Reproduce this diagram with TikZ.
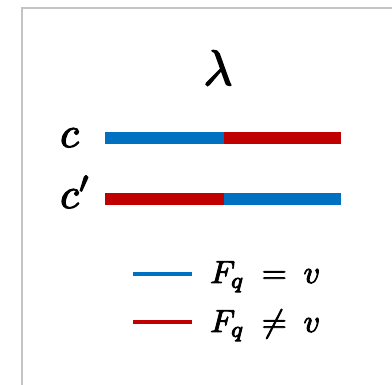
\documentclass[tikz,border=0pt]{standalone}
\definecolor{barblue}{HTML}{0070C0}
\definecolor{barred}{HTML}{C00000}
\definecolor{framegray}{HTML}{C4C4C4}
\newcommand\thicktext[1]{\special{pdf:literal direct 2 Tr 0.28 w}#1\special{pdf:literal direct 0 Tr}}
\tikzset{
  bar/.style={line width=12pt},
  legline/.style={line width=4.5pt},
  lbl/.style={inner sep=0pt, anchor=base west},
}
\begin{document}
\begin{tikzpicture}[x=1pt,y=-1pt]
\useasboundingbox[fill=white] (0,0) rectangle (392,385);
\draw[framegray, line width=2pt] (22,386) -- (22,8) -- (393,8);
% lambda
\node[inner sep=0pt, anchor=base] (lam) at (218,85) {\scalebox{5.0}{\thicktext{$\lambda$}}};
% c and c'
\node[lbl] (c) at (60,147) {\scalebox{4.3}{\thicktext{$c$}}};
\node[lbl] (cp) at (60,208) {\scalebox{4.3}{\thicktext{$c'$}}};
% bars
\coordinate (b1a) at (105,138);
\coordinate (b1m) at (223.5,138);
\coordinate (b1b) at (341,138);
\coordinate (b2a) at (105,199.5);
\coordinate (b2m) at (223.5,199.5);
\coordinate (b2b) at (341,199.5);
\draw[bar, barblue] (b1a) -- (b1m);
\draw[bar, barred] (b1m) -- (b1b);
\draw[bar, barred] (b2a) -- (b2m);
\draw[bar, barblue] (b2m) -- (b2b);
% legend
\coordinate (l1a) at (133,274);
\coordinate (l1b) at (192,274);
\coordinate (l2a) at (133,322);
\coordinate (l2b) at (192,322);
\draw[legline, barblue] (l1a) -- (l1b);
\draw[legline, barred] (l2a) -- (l2b);
\node[lbl] (eq) at (210,283) {\scalebox{3.2}{\thicktext{$F_q \mathrel{\mkern4.5mu=\mkern4.5mu} v$}}};
\node[lbl] (neq) at (210,332) {\scalebox{3.2}{\thicktext{$F_q \mathrel{\mkern4.5mu\neq\mkern4.5mu} v$}}};
\end{tikzpicture}
\end{document}
